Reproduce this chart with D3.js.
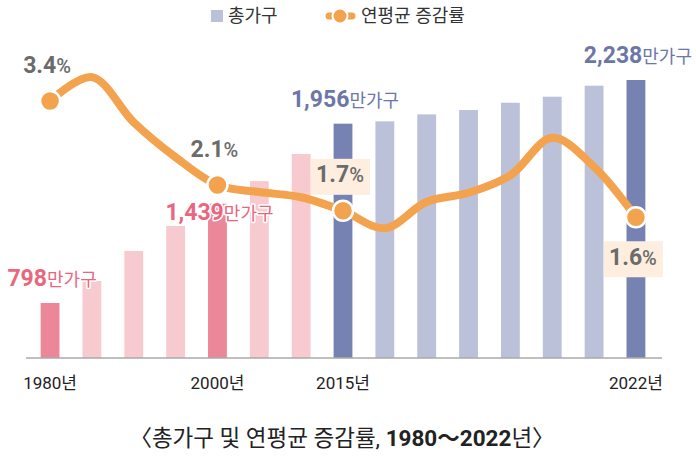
<!DOCTYPE html>
<html>
<head>
<meta charset="utf-8">
<script src="https://cdn.jsdelivr.net/npm/d3@7"></script>
<style>
  body { margin: 0; background: #fff; }
  svg { display: block; font-family: "Roboto", "Noto Sans CJK KR", sans-serif; }
</style>
</head>
<body>
<script>
// ---------------------- DATA ----------------------
const years = [1980, 1985, 1990, 1995, 2000, 2005, 2010, 2015, 2016, 2017, 2018, 2019, 2020, 2021, 2022];
const households = [798, 940, 1134, 1295, 1439, 1585, 1760, 1956, 1971, 2016, 2044, 2091, 2130, 2201, 2238]; // 만가구
const rates = [3.4, 3.77, 3.07, 2.53, 2.1, 1.99, 1.91, 1.7, 1.43, 1.84, 1.98, 2.25, 2.83, 2.38, 1.6]; // %
const tickYears = [1980, 2000, 2015, 2022];
const labeledYears = [1980, 2000, 2015, 2022];
const rateLabels = ["3.4%", "2.1%", "1.7%", "1.6%"];
const valueLabels = ["798", "1,439", "1,956", "2,238"];

const width = 696, height = 461;

const svg = d3.select("body").append("svg")
    .attr("width", width)
    .attr("height", height);

// ---------------------- SCALES ----------------------
const x = d3.scaleBand()
    .domain(years)
    .range([26, 660])
    .paddingInner(0.55)
    .paddingOuter(0.35);

const y = d3.scaleLinear()
    .domain([443, 2238])
    .range([358, 80]);

const yRate = d3.scaleLinear()
    .domain([0, 3.4])
    .range([320.6, 101]);

const cx = d => x(d) + x.bandwidth() / 2;

function barColor(year) {
    const hi = labeledYears.includes(year);
    if (year < 2015) return hi ? "#ec8699" : "#f7cacf";
    return hi ? "#7682b1" : "#bcc1da";
}

// ---------------------- BARS ----------------------
svg.append("g")
    .selectAll("rect")
    .data(years)
    .join("rect")
    .attr("x", d => x(d))
    .attr("width", x.bandwidth())
    .attr("y", (d, i) => y(households[i]))
    .attr("height", (d, i) => 358 - y(households[i]))
    .attr("fill", d => barColor(d));

// x axis
const xAxis = svg.append("g")
    .attr("transform", "translate(0,358)")
    .call(d3.axisBottom(x).tickValues(tickYears).tickSize(0).tickSizeOuter(0).tickFormat(d => d + "년"));
xAxis.select(".domain").attr("stroke", "#aaa").attr("stroke-width", 1.5).attr("d", "M26,0H662");
xAxis.selectAll("text")
    .attr("dy", 0)
    .attr("y", 31)
    .attr("font-size", 17)
    .attr("fill", "#222")
    .style("font-family", "Roboto, 'Noto Sans CJK KR'");

// ---------------------- VALUE LABELS ----------------------
valueLabels.forEach((lab, k) => {
    const yr = labeledYears[k];
    const i = years.indexOf(yr);
    const col = yr < 2015 ? "#e8677f" : "#6c77a8";
    const dy = yr === 2000 ? 16 : -17;
    const t = svg.append("text")
        .attr("x", cx(yr) + 2)
        .attr("y", y(households[i]) + dy)
        .attr("text-anchor", "middle")
        .attr("fill", col)
        .attr("stroke", "#fff")
        .attr("stroke-width", 3)
        .attr("paint-order", "stroke")
        .attr("stroke-linejoin", "round");
    t.append("tspan").attr("font-size", 23).attr("font-weight", 700).text(lab);
    t.append("tspan").attr("font-size", 18).attr("font-weight", 400).text("만가구");
});

// ---------------------- RATE LINE ----------------------
const line = d3.line()
    .x((d, i) => cx(years[i]))
    .y(d => yRate(d))
    .curve(d3.curveCatmullRom.alpha(0.5));

svg.append("path")
    .datum(rates)
    .attr("d", line)
    .attr("fill", "none")
    .attr("stroke", "#f3a24e")
    .attr("stroke-width", 8)
    .attr("stroke-linecap", "round");

svg.append("g")
    .selectAll("circle")
    .data(labeledYears)
    .join("circle")
    .attr("cx", d => cx(d))
    .attr("cy", d => yRate(rates[years.indexOf(d)]))
    .attr("r", 10)
    .attr("fill", "#f3a24e")
    .attr("stroke", "#fff")
    .attr("stroke-width", 2.5);

// rate labels: first two plain, last two in boxes
rateLabels.forEach((lab, k) => {
    const yr = labeledYears[k];
    const py = yRate(rates[years.indexOf(yr)]);
    const boxed = k >= 2;
    const ty = k === 3 ? py + 42 : py - 34;
    const g = svg.append("g").attr("transform", `translate(${cx(yr) - 3},${ty})`);
    if (boxed) {
        g.append("rect")
            .attr("x", -29).attr("y", -18)
            .attr("width", 59).attr("height", 36)
            .attr("fill", "#fdeee0");
    }
    const t = g.append("text")
        .attr("text-anchor", "middle")
        .attr("dy", "0.35em")
        .attr("fill", "#6b6b6b")
        .attr("font-weight", 700);
    t.append("tspan").attr("font-size", 23).text(lab.replace("%", ""));
    t.append("tspan").attr("font-size", 20).attr("font-weight", 500).text("%");
});

// ---------------------- LEGEND ----------------------
const legend = svg.append("g").attr("font-size", 18).attr("fill", "#333");
legend.append("rect").attr("x", 211).attr("y", 10).attr("width", 12).attr("height", 12).attr("fill", "#bcc1da");
legend.append("text").attr("x", 228).attr("y", 16).attr("dy", "0.35em").text("총가구");
legend.append("line")
    .attr("x1", 329).attr("x2", 352).attr("y1", 16).attr("y2", 16)
    .attr("stroke", "#f3a24e").attr("stroke-width", 7).attr("stroke-linecap", "round");
legend.append("circle").attr("cx", 340).attr("cy", 16).attr("r", 7.5)
    .attr("fill", "#f3a24e").attr("stroke", "#fff").attr("stroke-width", 2);
legend.append("text").attr("x", 361).attr("y", 16).attr("dy", "0.35em").text("연평균 증감률");

// ---------------------- TITLE ----------------------
const title = svg.append("text")
    .attr("x", 342).attr("y", 438)
    .attr("dy", "0.35em")
    .attr("text-anchor", "middle")
    .attr("font-size", 22.5)
    .attr("fill", "#222");
title.append("tspan").text("〈총가구 및 연평균 증감률, ");
title.append("tspan").attr("font-weight", 700).text("1980～2022");
title.append("tspan").text("년〉");
</script>
</body>
</html>
